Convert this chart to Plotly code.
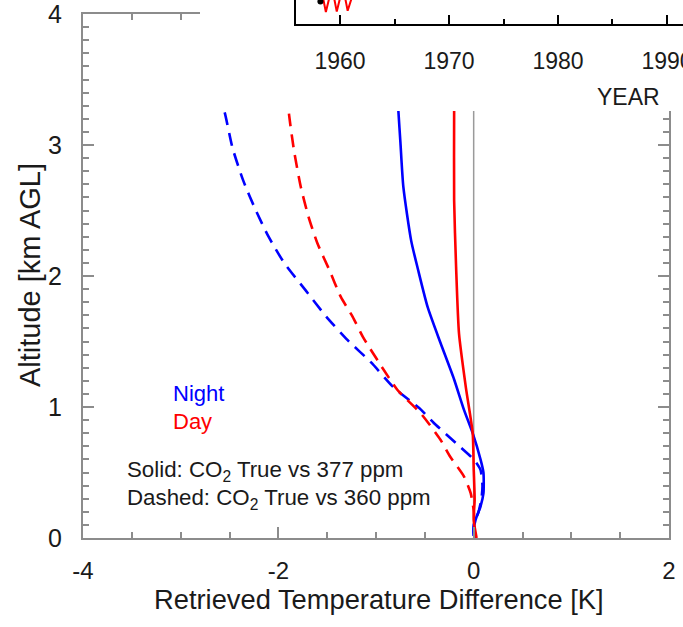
import plotly.graph_objects as go

W, H = 683, 627

# ---------------- data ----------------
# Night, dashed (CO2 True vs 360 ppm)
alt_night_360 = [3.40, 3.25, 2.98, 2.73, 2.50, 2.30, 2.10, 1.89, 1.69, 1.51, 1.34, 1.15,
                 0.98, 0.88, 0.69, 0.60, 0.52, 0.40, 0.30, 0.20, 0.10, 0.0]
dT_night_360 = [-2.62, -2.55, -2.47, -2.36, -2.23, -2.10, -1.94, -1.72, -1.51, -1.29, -1.05, -0.82,
                -0.54, -0.41, -0.13, 0.0, 0.07, 0.09, 0.08, 0.05, 0.0, 0.0]
# Day, dashed (CO2 True vs 360 ppm)
alt_day_360 = [3.40, 3.23, 2.96, 2.68, 2.45, 2.25, 2.05, 1.84, 1.69, 1.53, 1.34, 1.13,
               0.95, 0.75, 0.62, 0.47, 0.34, 0.21, 0.10, 0.0]
dT_day_360 = [-1.91, -1.89, -1.84, -1.77, -1.69, -1.60, -1.48, -1.36, -1.24, -1.13, -0.97, -0.78,
              -0.54, -0.34, -0.24, -0.10, -0.03, 0.0, 0.01, 0.01]
# Night, solid (CO2 True vs 377 ppm)
alt_night_377 = [3.40, 3.25, 3.02, 2.68, 2.27, 2.05, 1.76, 1.49, 1.21, 0.98, 0.80, 0.60,
                 0.50, 0.34, 0.24, 0.14, 0.04, 0.0]
dT_night_377 = [-0.78, -0.77, -0.75, -0.72, -0.64, -0.57, -0.47, -0.34, -0.20, -0.10, -0.01, 0.07,
                0.10, 0.10, 0.07, 0.02, 0.0, 0.02]
# Day, solid (CO2 True vs 377 ppm)
alt_day_377 = [3.40, 3.25, 2.58, 2.07, 1.56, 1.15, 0.80, 0.54, 0.29, 0.14, 0.0]
dT_day_377 = [-0.20, -0.20, -0.20, -0.18, -0.15, -0.08, -0.01, 0.0, 0.01, 0.0, 0.03]

# Inset (partially visible CO2 record)
inset_year = [1958.30, 1958.45, 1958.70, 1959.10, 1959.45, 1959.70, 1960.10, 1960.45, 1960.70, 1961.10, 1961.30]
inset_ppm = [317.2, 316.4, 313.0, 317.5, 316.6, 313.1, 317.6, 316.8, 313.3, 317.8, 318.5]
inset_marker_year = [1958.20]
inset_marker_ppm = [315.6]

x_ticks = [-4, -2, 0, 2]
y_ticks = [0, 1, 2, 3, 4]
inset_ticks = [1960, 1970, 1980, 1990]

BLUE = "#0000ff"
RED = "#ff0000"
AX = "#8c8c8c"
TXT = "#1a1a1a"

def px_x(p):
    return p / W

def px_y(p):
    return 1 - p / H

fig = go.Figure()

# main curves
fig.add_trace(go.Scatter(x=dT_night_360, y=alt_night_360, mode="lines",
                         line=dict(color=BLUE, width=2.6, dash="13px,8px", shape="spline", smoothing=0.6),
                         showlegend=False))
fig.add_trace(go.Scatter(x=dT_day_360, y=alt_day_360, mode="lines",
                         line=dict(color=RED, width=2.6, dash="13px,8px", shape="spline", smoothing=0.6),
                         showlegend=False))
fig.add_trace(go.Scatter(x=dT_night_377, y=alt_night_377, mode="lines",
                         line=dict(color=BLUE, width=2.6, shape="spline", smoothing=0.6), showlegend=False))
fig.add_trace(go.Scatter(x=dT_day_377, y=alt_day_377, mode="lines",
                         line=dict(color=RED, width=2.6, shape="spline", smoothing=0.6), showlegend=False))

# cover subplot (white background over the top of the main panel)
fig.add_trace(go.Scatter(x=[], y=[], xaxis="x2", yaxis="y2", showlegend=False))

# inset
fig.add_trace(go.Scatter(x=inset_year, y=inset_ppm, mode="lines", xaxis="x3", yaxis="y3",
                         line=dict(color=RED, width=2), showlegend=False))
fig.add_trace(go.Scatter(x=inset_marker_year, y=inset_marker_ppm, mode="markers", xaxis="x3", yaxis="y3",
                         marker=dict(color="black", size=6), showlegend=False))

fig.update_layout(
    template="none",
    width=W, height=H,
    margin=dict(l=0, r=0, t=0, b=0, pad=0, autoexpand=False),
    paper_bgcolor="white", plot_bgcolor="white",
    font=dict(family="Liberation Sans, Arial, Helvetica, sans-serif", color=TXT),
    xaxis=dict(domain=[px_x(83), px_x(669)], range=[-4, 2], anchor="y", automargin=False,
               tickmode="array", tickvals=x_ticks, ticktext=[str(v) for v in x_ticks],
               ticks="inside", ticklen=11, tickwidth=1.5, tickcolor=AX,
               minor=dict(dtick=0.5, tick0=0, ticks="inside", ticklen=6, tickwidth=1.5, tickcolor=AX,
                          showgrid=False),
               showline=True, linecolor=AX, linewidth=2, mirror="ticks",
               showgrid=False, zeroline=False, ticklabeloverflow="allow",
               tickfont=dict(size=24, color=TXT), ticklabelstandoff=10),
    yaxis=dict(domain=[px_y(538), px_y(14)], range=[0, 4], anchor="x", automargin=False,
               tickmode="array", tickvals=y_ticks, ticktext=[str(v) for v in y_ticks],
               ticks="inside", ticklen=11, tickwidth=1.5, tickcolor=AX,
               minor=dict(dtick=0.1, tick0=0, ticks="inside", ticklen=6, tickwidth=1.5, tickcolor=AX,
                          showgrid=False),
               showline=True, linecolor=AX, linewidth=2, mirror="ticks",
               showgrid=False, zeroline=False, ticklabeloverflow="allow",
               tickfont=dict(size=25, color=TXT), ticklabelstandoff=14),
    xaxis2=dict(domain=[px_x(200), 1], anchor="y2", visible=False, range=[0, 1], automargin=False),
    yaxis2=dict(domain=[px_y(111), 1], anchor="x2", visible=False, range=[0, 1], automargin=False),
    xaxis3=dict(domain=[px_x(296), 1], anchor="y3", range=[1955.96, 1991.47], automargin=False,
                tickmode="array", tickvals=inset_ticks, ticktext=[str(v) for v in inset_ticks],
                ticks="inside", ticklen=9, tickwidth=1.5, tickcolor="black",
                minor=dict(dtick=5, tick0=1955, ticks="inside", ticklen=5, tickwidth=1.5, tickcolor="black",
                           showgrid=False),
                showline=True, linecolor="black", linewidth=1.5,
                showgrid=False, zeroline=False, ticklabeloverflow="allow",
                tickfont=dict(size=23, color=TXT), ticklabelstandoff=16),
    yaxis3=dict(domain=[px_y(24), 1], anchor="x3", range=[310, 316], automargin=False,
                showline=True, linecolor="black", linewidth=1.5,
                ticks="", showticklabels=False, showgrid=False, zeroline=False),
)

# vertical reference line at 0 K
fig.add_shape(type="line", xref="x", yref="y", x0=0, x1=0, y0=0, y1=4,
              line=dict(color="#9a9a9a", width=1.5), layer="below")

annotations = [
    dict(text="Retrieved Temperature Difference [K]", x=px_x(379), y=px_y(599),
         font=dict(size=27.3, color=TXT), xanchor="center", yanchor="middle"),
    dict(text="Altitude [km AGL]", x=px_x(30), y=px_y(275), textangle=-90,
         font=dict(size=29, color=TXT), xanchor="center", yanchor="middle"),
    dict(text="Night", x=px_x(171), y=px_y(393), font=dict(size=22, color=BLUE),
         xanchor="left", yanchor="middle"),
    dict(text="Day", x=px_x(171), y=px_y(421), font=dict(size=22, color=RED),
         xanchor="left", yanchor="middle"),
    dict(text="Solid: CO<sub>2</sub> True vs 377 ppm", x=px_x(125), y=px_y(471),
         font=dict(size=22.3, color=TXT), xanchor="left", yanchor="middle"),
    dict(text="Dashed: CO<sub>2</sub> True vs 360 ppm", x=px_x(125), y=px_y(499),
         font=dict(size=22.3, color=TXT), xanchor="left", yanchor="middle"),
    dict(text="YEAR", x=px_x(628), y=px_y(97), font=dict(size=23, color=TXT),
         xanchor="center", yanchor="middle"),
]
for a in annotations:
    a.update(xref="paper", yref="paper", showarrow=False)
fig.update_layout(annotations=annotations)

fig.write_html("out.html",
               config={"displayModeBar": False},
               post_script="document.body.style.margin='0';document.body.style.overflow='hidden';")
